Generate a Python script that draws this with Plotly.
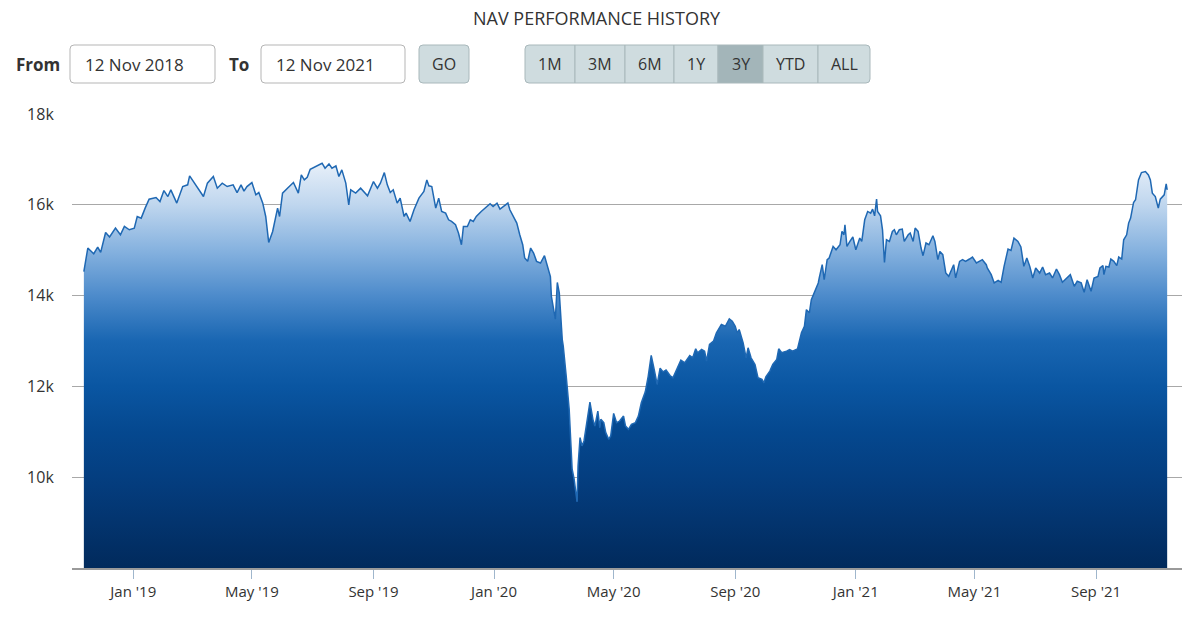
import pandas as pd
import plotly.graph_objects as go

# ---------------- data ----------------
start_date = "2018-11-12"
day_offsets = [0, 4, 10, 14, 17, 22, 26, 32, 37, 41, 46, 51, 54, 58, 62, 66, 73, 77, 81, 85,
               88, 94, 100, 105, 107, 111, 116, 121, 125, 131, 135, 140, 145, 151, 155, 159, 162, 165, 170, 174,
               177, 181, 184, 187, 191, 194, 196, 198, 201, 206, 212, 217, 220, 223, 226, 229, 235, 241, 244, 248,
               251, 255, 258, 261, 265, 268, 270, 275, 280, 283, 287, 293, 297, 300, 304, 307, 310, 313, 317, 320,
               324, 326, 330, 334, 339, 344, 347, 349, 352, 356, 359, 362, 366, 369, 372, 376, 379, 382, 384, 388,
               391, 394, 397, 402, 408, 411, 414, 418, 421, 425, 429, 431, 435, 438, 441, 444, 446, 449, 452, 455,
               458, 462, 466, 469, 472, 473, 475, 477, 479, 481, 484, 485, 488, 491, 494, 496, 499, 500, 502, 504,
               506, 509, 512, 515, 517, 520, 522, 523, 526, 528, 531, 533, 536, 539, 542, 546, 548, 551, 554, 558,
               561, 564, 568, 571, 574, 577, 580, 583, 586, 589, 593, 596, 599, 604, 608, 613, 616, 619, 621, 625,
               628, 630, 633, 637, 640, 645, 649, 653, 656, 659, 661, 663, 667, 670, 672, 675, 679, 682, 686, 688,
               690, 694, 697, 701, 703, 706, 711, 714, 717, 722, 726, 729, 731, 734, 736, 739, 743, 744, 747, 749,
               752, 754, 758, 761, 765, 767, 769, 770, 772, 775, 778, 781, 785, 787, 790, 793, 796, 798, 800, 802,
               803, 806, 808, 810, 812, 815, 818, 820, 822, 825, 828, 830, 834, 836, 839, 841, 844, 847, 849, 852,
               855, 859, 861, 864, 866, 869, 872, 875, 878, 880, 882, 886, 889, 892, 896, 899, 903, 906, 909, 913,
               914, 918, 921, 925, 928, 931, 935, 938, 941, 945, 948, 951, 954, 957, 960, 963, 967, 970, 973, 977,
               980, 984, 987, 990, 994, 998, 1002, 1005, 1009, 1012, 1015, 1019, 1022, 1026, 1028, 1031, 1032, 1034, 1037, 1039,
               1042, 1045, 1047, 1050, 1052, 1055, 1057, 1059, 1062, 1064, 1067, 1070, 1074, 1077, 1079, 1081, 1084, 1087, 1089, 1093,
               1095, 1096]
nav_values = [14530, 15048, 14923, 15070, 14951, 15391, 15290, 15487, 15340, 15523, 15450, 15487, 15743, 15706, 15926, 16124, 16160, 16072, 16314, 16182,
              16330, 16037, 16402, 16440, 16637, 16512, 16366, 16182, 16477, 16622, 16366, 16477, 16402, 16440, 16270, 16440, 16300, 16402, 16490, 16220,
              16270, 16037, 15743, 15172, 15413, 15743, 15926, 15743, 16257, 16366, 16490, 16257, 16659, 16549, 16608, 16784, 16842, 16916, 16806, 16901,
              16806, 16857, 16622, 16769, 16477, 16000, 16330, 16257, 16366, 16293, 16198, 16512, 16366, 16477, 16710, 16440, 16270, 16330, 16037, 16147,
              15743, 15816, 15633, 15890, 16147, 16293, 16549, 16418, 16402, 15926, 16147, 15853, 15816, 15670, 15633, 15560, 15377, 15120, 15523, 15523,
              15670, 15633, 15743, 15853, 15963, 16022, 15963, 16037, 15905, 15978, 16037, 15890, 15707, 15597, 15340, 15120, 14828, 14754, 15048, 14938,
              14754, 14718, 14879, 14644, 14420, 13985, 13692, 13480, 14290, 14059, 13033, 12886, 12227, 11494, 10176, 9955, 9457, 10249, 10872, 10689,
              10799, 11274, 11655, 11274, 11127, 11457, 11091, 11274, 11201, 10981, 10835, 10908, 11406, 11201, 11237, 11347, 11127, 11055, 11164, 11201,
              11347, 11640, 11880, 12227, 12681, 12373, 12043, 12400, 12320, 12359, 12240, 12190, 12337, 12579, 12520, 12681, 12630, 12828, 12740, 12813,
              12777, 12557, 12923, 12996, 13179, 13362, 13325, 13487, 13435, 13325, 13179, 13252, 12960, 12630, 12850, 12630, 12483, 12190, 12153, 12080,
              12212, 12337, 12483, 12593, 12828, 12740, 12777, 12813, 12777, 12828, 13179, 13325, 13690, 13620, 13912, 14059, 14279, 14389, 14681, 14351,
              14791, 14828, 15083, 15010, 15120, 15413, 15340, 15560, 15083, 15193, 15290, 15010, 15267, 15193, 15670, 15853, 15816, 15905, 15758, 16124,
              15853, 15758, 15450, 14732, 15230, 15193, 15413, 15450, 15340, 15450, 15465, 15193, 15340, 15377, 15193, 15487, 15413, 15048, 14879, 15158,
              15120, 15318, 15193, 14791, 14974, 14901, 14498, 14424, 14608, 14681, 14389, 14754, 14791, 14754, 14806, 14850, 14718, 14754, 14791, 14681,
              14608, 14461, 14279, 14337, 14293, 14644, 15026, 14996, 15267, 15193, 15070, 14644, 14828, 14644, 14389, 14608, 14498, 14630, 14461, 14498,
              14389, 14586, 14461, 14293, 14389, 14461, 14205, 14315, 14279, 14074, 14351, 14096, 14389, 14424, 14608, 14659, 14461, 14644, 14630, 14806,
              14754, 14659, 14850, 14806, 15230, 15340, 15597, 15707, 16051, 16110, 16549, 16710, 16732, 16659, 16549, 16257, 16182, 15926, 16124, 16220,
              16461, 16330]

y_tick_values = [10000, 12000, 14000, 16000, 18000]
y_tick_labels = ["10k", "12k", "14k", "16k", "18k"]
x_tick_dates = ["2019-01-01", "2019-05-01", "2019-09-01", "2020-01-01", "2020-05-01",
                "2020-09-01", "2021-01-01", "2021-05-01", "2021-09-01"]
x_tick_labels = ["Jan '19", "May '19", "Sep '19", "Jan '20", "May '20",
                 "Sep '20", "Jan '21", "May '21", "Sep '21"]
range_buttons = ["1M", "3M", "6M", "1Y", "3Y", "YTD", "ALL"]
selected_button = "3Y"
from_text = "12 Nov 2018"
to_text = "12 Nov 2021"

dates = pd.Timestamp(start_date) + pd.to_timedelta(day_offsets, unit="D")

# ---------------- layout geometry ----------------
W, H = 1200, 623
ML, MR, MT, MB = 72, 18, 114, 55
PW, PH = W - ML - MR, H - MT - MB
FONT = "Open Sans"


def px(x):
    return (x - ML) / PW


def py(y):
    return (H - MB - y) / PH


def rounded_rect(x0, y0, x1, y1, r, left=True, right=True):
    rl = r if left else 0
    rr = r if right else 0
    pts = [f"M {px(x0 + rl)} {py(y0)}", f"L {px(x1 - rr)} {py(y0)}"]
    if rr:
        pts.append(f"Q {px(x1)} {py(y0)} {px(x1)} {py(y0 + rr)}")
    pts.append(f"L {px(x1)} {py(y1 - rr)}")
    if rr:
        pts.append(f"Q {px(x1)} {py(y1)} {px(x1 - rr)} {py(y1)}")
    pts.append(f"L {px(x0 + rl)} {py(y1)}")
    if rl:
        pts.append(f"Q {px(x0)} {py(y1)} {px(x0)} {py(y1 - rl)}")
    pts.append(f"L {px(x0)} {py(y0 + rl)}")
    if rl:
        pts.append(f"Q {px(x0)} {py(y0)} {px(x0 + rl)} {py(y0)}")
    pts.append("Z")
    return " ".join(pts)


fig = go.Figure()
fig.add_trace(go.Scatter(
    x=dates, y=nav_values, mode="lines",
    line=dict(color="#1f68b3", width=1.5),
    fill="tozeroy",
    fillgradient=dict(
        type="vertical", start=8000, stop=18000,
        colorscale=[[0.0, "#012a5c"], [0.1, "#03346e"], [0.2, "#043e80"], [0.3, "#05488f"],
                    [0.4, "#0a56a2"], [0.5, "#1966b2"], [0.6, "#4d8bcb"], [0.7, "#86b2df"],
                    [0.8, "#bfd6ee"], [0.9, "#ebf2fa"], [1.0, "#ffffff"]],
    ),
    hoverinfo="x+y",
    showlegend=False,
))

shapes = []
annotations = []

# title
annotations.append(dict(text="NAV PERFORMANCE HISTORY", x=px(597), y=py(18), xref="paper", yref="paper",
                        showarrow=False, font=dict(family=FONT, size=18, color="#333333"),
                        xanchor="center", yanchor="middle"))

# From / To labels and inputs
annotations.append(dict(text="<b>From</b>", x=px(14), y=py(64), xref="paper", yref="paper", showarrow=False,
                        font=dict(family=FONT, size=17, color="#333333"), xanchor="left", yanchor="middle"))
annotations.append(dict(text="<b>To</b>", x=px(227), y=py(64), xref="paper", yref="paper", showarrow=False,
                        font=dict(family=FONT, size=17, color="#333333"), xanchor="left", yanchor="middle"))
for (x0, x1, txt) in [(70, 215, from_text), (261, 405, to_text)]:
    shapes.append(dict(type="path", path=rounded_rect(x0, 45, x1, 83, 4), xref="paper", yref="paper",
                       fillcolor="#ffffff", line=dict(color="#b5b5b5", width=1)))
    annotations.append(dict(text=txt, x=px(x0 + 13), y=py(64), xref="paper", yref="paper", showarrow=False,
                            font=dict(family=FONT, size=17, color="#333333"), xanchor="left", yanchor="middle"))

# GO button
shapes.append(dict(type="path", path=rounded_rect(419, 45, 469, 83, 4), xref="paper", yref="paper",
                   fillcolor="#cfdcdf", line=dict(color="#a9b8bb", width=1)))
annotations.append(dict(text="GO", x=px(444), y=py(64), xref="paper", yref="paper", showarrow=False,
                        font=dict(family=FONT, size=16, color="#333333"), xanchor="center", yanchor="middle"))

# range buttons
btn_edges = [525, 575, 625, 674, 718, 763, 818, 870]
for i, lab in enumerate(range_buttons):
    x0, x1 = btn_edges[i], btn_edges[i + 1]
    fill = "#a3b5b9" if lab == selected_button else "#cfdcdf"
    shapes.append(dict(type="path",
                       path=rounded_rect(x0, 45, x1, 83, 4, left=(i == 0), right=(i == len(range_buttons) - 1)),
                       xref="paper", yref="paper", fillcolor=fill, line=dict(color="#a9b8bb", width=1)))
    annotations.append(dict(text=lab, x=px((x0 + x1) / 2), y=py(64), xref="paper", yref="paper",
                            showarrow=False, font=dict(family=FONT, size=16, color="#333333"),
                            xanchor="center", yanchor="middle"))

fig.update_layout(
    width=W, height=H,
    margin=dict(l=ML, r=MR, t=MT, b=MB),
    paper_bgcolor="#ffffff", plot_bgcolor="#ffffff",
    font=dict(family=FONT, color="#333333"),
    shapes=shapes, annotations=annotations,
    showlegend=False,
)
fig.update_xaxes(
    type="date", range=["2018-10-31", "2021-11-27"],
    tickvals=x_tick_dates, ticktext=x_tick_labels,
    ticks="outside", ticklen=9, tickcolor="#9fb6cc", tickwidth=1,
    showgrid=False, showline=True, linecolor="#9a9a9a", linewidth=2,
    tickfont=dict(family=FONT, size=15, color="#333333"),
    zeroline=False,
)
fig.update_yaxes(
    range=[8000, 18000], tickvals=y_tick_values, ticktext=y_tick_labels,
    ticks="outside", ticklen=14, tickcolor="rgba(0,0,0,0)",
    showgrid=True, gridcolor="#a8a8a8", gridwidth=1,
    zeroline=False, showline=False,
    tickfont=dict(family=FONT, size=16, color="#333333"),
)

fig.write_html("out.html")
